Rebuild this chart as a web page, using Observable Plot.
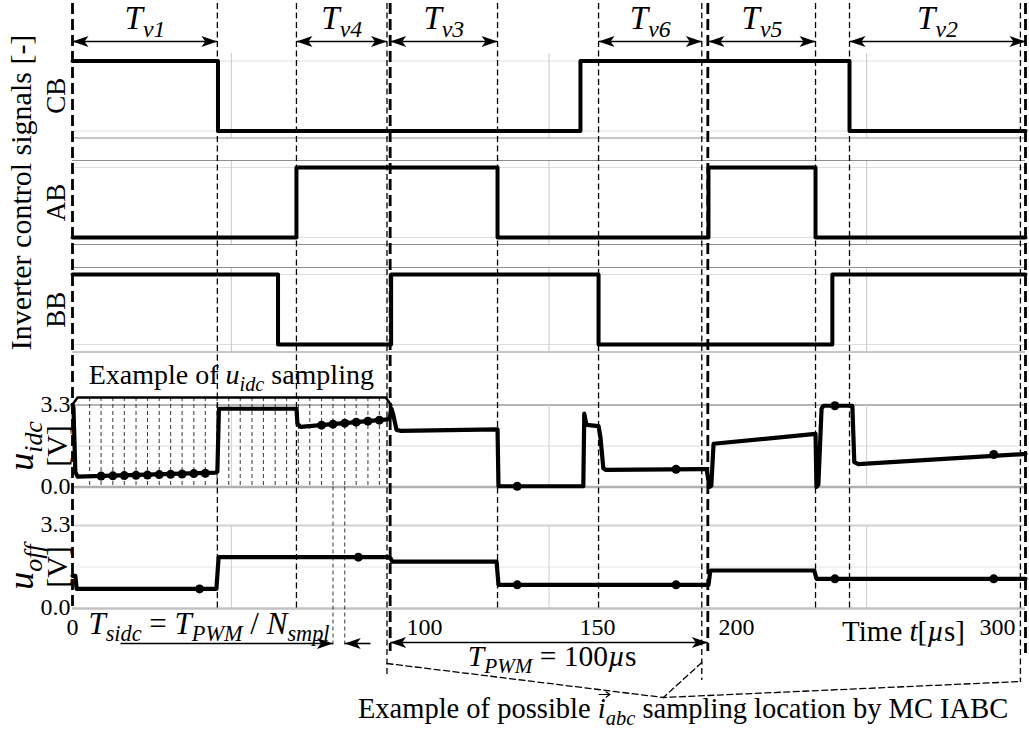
<!DOCTYPE html>
<html>
<head>
<meta charset="utf-8">
<script src="https://cdn.jsdelivr.net/npm/d3@7"></script>
<script src="https://cdn.jsdelivr.net/npm/@observablehq/plot@0.6"></script>
<style>
html, body { margin: 0; padding: 0; background: #fff; }
#chart svg { display: block; }
</style>
</head>
<body>
<div id="chart"></div>
<script>
// ================= DATA =================
// Inverter control signals (time in µs, logic level 0/1), step-after
const cbT = [0, 45.8, 159.9, 244.6, 300];
const cbV = [1, 0, 1, 0, 0];
const abT = [0, 70.5, 133.8, 200.2, 233.9, 300];
const abV = [0, 1, 0, 1, 0, 0];
const bbT = [0, 64.7, 100.3, 165.6, 239.2, 300];
const bbV = [1, 0, 1, 0, 1, 1];

// u_idc [V]
const uidcT = [0, 0.3, 0.9, 1.6, 45.0, 45.6, 46.1, 70.5, 70.8, 71.8, 99.2, 99.8, 100.4, 101.0, 102.0, 103.2,
  133.8, 134.1, 160.8, 161.1, 161.8, 165.6, 166.2, 167.1, 167.8, 198.3, 199.6, 200.5, 201.1, 201.8,
  233.9, 234.2, 234.8, 235.8, 236.4, 245.5, 246.1, 247.4, 300];
const uidcV = [3.3, 3.2, 0.6, 0.42, 0.58, 0.62, 3.15, 3.15, 2.55, 2.42, 2.72, 2.75, 3.15, 2.9, 2.3, 2.26,
  2.32, 0.03, 0.03, 2.95, 2.5, 2.45, 2.0, 0.75, 0.69, 0.72, 0.72, 0.0, 0.05, 1.74,
  2.14, 0.0, 0.1, 3.15, 3.27, 3.27, 1.0, 0.92, 1.33];

// u_off [V]
const uoffT = [0, 0.9, 1.3, 45.3, 46.0, 99.2, 100.1, 100.7, 133.5, 134.1, 200.2, 200.8, 233.5, 234.2, 300];
const uoffV = [1.3, 1.3, 0.78, 0.78, 2.04, 2.04, 2.0, 1.86, 1.86, 0.94, 0.94, 1.51, 1.51, 1.18, 1.18];

// sampled points
const uidcDotT = [9.0, 12.7, 16.3, 20.0, 23.6, 27.3, 30.9, 34.5, 38.2, 41.8, 78.4, 82.0, 85.7, 89.3, 93.0, 96.6, 140, 190, 240, 290];
const uidcDotV = [0.44, 0.45, 0.46, 0.47, 0.48, 0.50, 0.51, 0.52, 0.54, 0.55, 2.49, 2.53, 2.57, 2.61, 2.65, 2.69, 0.03, 0.71, 3.27, 1.31];
const uoffDotT = [40, 90, 140, 190, 240, 290];
const uoffDotV = [0.78, 2.04, 0.94, 0.94, 1.18, 1.18];

// time markers
const pwmT = [0, 100, 200, 300];
const boundaryT = [45.6, 70.5, 99.0, 133.8, 165.6, 198.1, 233.9, 244.6, 298.4];
const tvNames = ["v1", "v4", "v3", "v6", "v5", "v2"];
const tvStart = [0, 70.5, 100, 165.6, 200.2, 244.6];
const tvEnd = [45.6, 99.0, 133.8, 198.1, 233.9, 300];
const gridT = [50, 150, 250];
const sampleT = [5.4, 9.0, 12.7, 16.3, 20.0, 23.6, 27.3, 30.9, 34.5, 38.2, 41.8, 45.5, 49.2, 52.8, 56.5, 60.1,
  63.8, 67.4, 71.1, 74.7, 78.4, 82.0, 85.7, 89.3, 93.0, 96.6];
const tsidcT = [82.0, 85.7];
const tpwmT = [100, 200];

// tick labels
const xTickLabels = ["0", "100", "150", "200", "300"];
const xTickLabelT = [0, 110.8, 165.3, 209.0, 291.2];
const yTickLabels = ["0.0", "3.3"];
const yTickV = [0, 3.3];
const signalNames = ["CB", "AB", "BB"];

// ================= LAYOUT =================
const W = 1029, H = 729;
const serif = "'Liberation Serif', 'DejaVu Serif', serif";
const sigPanel = {
  CB: {lo: 130.5, hi: 60.5, top: 53, bot: 137.5},
  AB: {lo: 237, hi: 167, top: 160, bot: 244},
  BB: {lo: 344, hi: 274, top: 267, bot: 351.5}
};
const anaPanel = {uidc: {zero: 486.5, full: 404.5}, uoff: {zero: 608, full: 525}};
const VMAX = 3.3;
const sy = (p, v) => p.lo + (p.hi - p.lo) * v;
const ay = (p, v) => p.zero + (p.full - p.zero) * v / VMAX;
const zip = (T, V) => T.map((t, i) => ({t, v: V[i]}));
const pwmEnd = [610, 651, 651, 653];
const boundaryEnd = [610, 610, 677, 610, 610, 680, 610, 610, 682];

const headRight = {draw(ctx) { ctx.moveTo(0, 0); ctx.lineTo(-16, -5.5); ctx.lineTo(-12, 0); ctx.lineTo(-16, 5.5); ctx.closePath(); }};
const headLeft = {draw(ctx) { ctx.moveTo(0, 0); ctx.lineTo(16, -5.5); ctx.lineTo(12, 0); ctx.lineTo(16, 5.5); ctx.closePath(); }};

const marks = [];

// ---- panel grids ----
for (const n of signalNames) {
  const p = sigPanel[n];
  marks.push(Plot.ruleY([p.hi, p.lo], {stroke: "#dedede", strokeWidth: 1}));
  marks.push(Plot.ruleX(gridT, {x: d => d, y1: p.top, y2: p.bot, stroke: "#c8c8c8", strokeWidth: 1}));
}
marks.push(Plot.ruleY([sigPanel.CB.bot, sigPanel.AB.top, sigPanel.AB.bot, sigPanel.BB.top, sigPanel.BB.bot],
  {stroke: "#8e8e8e", strokeWidth: 1}));

const ana = [
  {p: anaPanel.uidc, full: "#9c9c9c", fullW: 1.3, mid: "#dcdcdc", zero: "#b0b0b0"},
  {p: anaPanel.uoff, full: "#d2d2d2", fullW: 2, mid: "#e6e6e6", zero: "#c2c2c2"}
];
for (const a of ana) {
  marks.push(Plot.ruleY([ay(a.p, VMAX / 2)], {stroke: a.mid, strokeWidth: 1}));
  marks.push(Plot.ruleY([ay(a.p, VMAX)], {stroke: a.full, strokeWidth: a.fullW}));
  marks.push(Plot.ruleY([ay(a.p, 0)], {stroke: a.zero, strokeWidth: 2.5}));
  marks.push(Plot.ruleX(gridT, {x: d => d, y1: a.p.full, y2: a.p.zero, stroke: "#cccccc", strokeWidth: 1}));
}

// ---- sampling lines of u_idc ----
marks.push(Plot.ruleX(sampleT, {x: d => d, y1: 397, y2: anaPanel.uidc.zero, stroke: "#222", strokeWidth: 0.9, strokeDasharray: "4,3"}));
marks.push(Plot.ruleX(tsidcT, {x: d => d, y1: anaPanel.uidc.zero, y2: 646, stroke: "#222", strokeWidth: 0.9, strokeDasharray: "4,3"}));

// ---- boundary (thin dashed) and PWM period (thick dashed) lines ----
marks.push(Plot.ruleX(boundaryT, {x: d => d, y1: 3, y2: (d, i) => boundaryEnd[i], stroke: "black", strokeWidth: 1.3, strokeDasharray: "6,3.5"}));
marks.push(Plot.ruleX(pwmT, {x: d => d, y1: 3, y2: (d, i) => pwmEnd[i], stroke: "black", strokeWidth: 2.8, strokeDasharray: "11,5"}));

// ---- signals ----
for (const [n, T, V] of [["CB", cbT, cbV], ["AB", abT, abV], ["BB", bbT, bbV]]) {
  marks.push(Plot.line(zip(T, V), {x: "t", y: d => sy(sigPanel[n], d.v), curve: "step-after", stroke: "black", strokeWidth: 4}));
}

// ---- analog traces ----
marks.push(Plot.line(zip(uidcT, uidcV), {x: "t", y: d => ay(anaPanel.uidc, d.v), stroke: "black", strokeWidth: 4.2, strokeLinejoin: "round"}));
marks.push(Plot.line(zip(uoffT, uoffV), {x: "t", y: d => ay(anaPanel.uoff, d.v), stroke: "black", strokeWidth: 4.2, strokeLinejoin: "round"}));
marks.push(Plot.dot(zip(uidcDotT, uidcDotV), {x: "t", y: d => ay(anaPanel.uidc, d.v), r: 4.5, fill: "black"}));
marks.push(Plot.dot(zip(uoffDotT, uoffDotV), {x: "t", y: d => ay(anaPanel.uoff, d.v), r: 4.5, fill: "black"}));

// ---- sampling bracket ----
marks.push(Plot.line([{t: 0, y: 404}, {t: 1.6, y: 397}, {t: 98.6, y: 397}, {t: 100.4, y: 405}],
  {x: "t", y: "y", stroke: "black", strokeWidth: 2.5}));

// ---- Tv arrows ----
const tv = tvNames.map((name, i) => ({name, s: tvStart[i], e: tvEnd[i]}));
const arrowY = 41;
marks.push(Plot.link(tv, {x1: "s", x2: "e", y1: arrowY, y2: arrowY, stroke: "black", strokeWidth: 1.6}));
marks.push(Plot.dot(tv, {x: "s", y: arrowY, symbol: headLeft, fill: "black"}));
marks.push(Plot.dot(tv, {x: "e", y: arrowY, symbol: headRight, fill: "black"}));
marks.push(Plot.text(tv, {x: d => (d.s + d.e) / 2, y: 28, text: d => `*T*_{*${d.name}*}`, fontSize: 33, lineAnchor: "bottom", fontFamily: serif}));

// ---- T_sidc arrows ----
const sidcY = 643;
marks.push(Plot.link([{a: 15.1, b: tsidcT[0]}, {a: tsidcT[1], b: 93.8}], {x1: "a", x2: "b", y1: sidcY, y2: sidcY, stroke: "black", strokeWidth: 1.6}));
marks.push(Plot.dot([tsidcT[0]], {x: d => d, y: sidcY, symbol: headRight, fill: "black"}));
marks.push(Plot.dot([tsidcT[1]], {x: d => d, y: sidcY, symbol: headLeft, fill: "black"}));

// ---- T_PWM arrow ----
const pwmY = 642;
marks.push(Plot.link([{a: tpwmT[0], b: tpwmT[1]}], {x1: "a", x2: "b", y1: pwmY, y2: pwmY, stroke: "black", strokeWidth: 1.6}));
marks.push(Plot.dot([tpwmT[0]], {x: d => d, y: pwmY, symbol: headLeft, fill: "black"}));
marks.push(Plot.dot([tpwmT[1]], {x: d => d, y: pwmY, symbol: headRight, fill: "black"}));

// ---- bottom dashed bracket ----
marks.push(Plot.line([{t: 99.0, y: 663}, {t: 186.0, y: 697}, {t: 298.4, y: 681}], {x: "t", y: "y", stroke: "black", strokeWidth: 1.3, strokeDasharray: "6,3.5"}));
marks.push(Plot.line([{t: 198.1, y: 662}, {t: 186.0, y: 697}], {x: "t", y: "y", stroke: "black", strokeWidth: 1.3, strokeDasharray: "6,3.5"}));

// ---- texts ----
marks.push(Plot.text(["Inverter control signals [-]"], {frameAnchor: "left", dx: -51, y: 192, rotate: -90, textAnchor: "middle", fontSize: 30, fontFamily: serif}));
marks.push(Plot.text(signalNames, {frameAnchor: "left", dx: -16, y: d => (sigPanel[d].top + sigPanel[d].bot) / 2, rotate: -90, textAnchor: "middle", fontSize: 27, fontFamily: serif}));
const anaLabels = [
  {label: "*u*_{*idc*}", p: anaPanel.uidc},
  {label: "*u*_{*off*}", p: anaPanel.uoff}
];
marks.push(Plot.text(anaLabels, {frameAnchor: "left", dx: -51, y: d => (d.p.full + d.p.zero) / 2, text: "label", rotate: -90, textAnchor: "middle", fontSize: 36, fontFamily: serif}));
marks.push(Plot.text(anaLabels, {frameAnchor: "left", dx: -15, y: d => (d.p.full + d.p.zero) / 2, text: () => "[V]", rotate: -90, textAnchor: "middle", fontSize: 30, fontFamily: serif}));
for (const a of [anaPanel.uidc, anaPanel.uoff]) {
  marks.push(Plot.text(yTickLabels, {frameAnchor: "left", dx: -2, dy: -1, y: (d, i) => ay(a, yTickV[i]), textAnchor: "end", fontSize: 24, fontFamily: serif}));
}
marks.push(Plot.text(xTickLabels, {x: (d, i) => xTickLabelT[i], y: 634, lineAnchor: "bottom", fontSize: 24, fontFamily: serif}));
marks.push(Plot.text(["Time *t*[*µ*s]"], {x: 261.6, y: 640, lineAnchor: "bottom", fontSize: 29, fontFamily: serif}));
marks.push(Plot.text(["*T*_{*sidc*} = *T*_{*PWM*} / *N*_{*smpl*}"], {x: 5.0, y: 633, textAnchor: "start", lineAnchor: "bottom", fontSize: 31, fontFamily: serif}));
marks.push(Plot.text(["*T*_{*PWM*} = 100*µ*s"], {x: 151, y: 665, lineAnchor: "bottom", fontSize: 29.5, fontFamily: serif}));
marks.push(Plot.text(["Example of *u*_{*idc*} sampling"], {x: 50, y: 383, lineAnchor: "bottom", fontSize: 28, fontFamily: serif}));
marks.push(Plot.text(["Example of possible *i*_{*abc*} sampling location by MC IABC"], {x: 192.2, y: 717, lineAnchor: "bottom", fontSize: 28.5, fontFamily: serif}));

const svg = Plot.plot({
  width: W,
  height: H,
  marginLeft: 72, marginRight: 4, marginTop: 0, marginBottom: 0,
  x: {domain: [0, 300], range: [72, 1025], axis: null},
  y: {domain: [0, H], range: [0, H], axis: null},
  style: {background: "white", fontFamily: serif, color: "black"},
  marks
});
document.getElementById("chart").appendChild(svg);

// ---- rich text: *italic* and _{subscript} as tspans ----
const NS = "http://www.w3.org/2000/svg";
svg.querySelectorAll("text").forEach(el => {
  const s = el.textContent;
  if (!/\*|_\{/.test(s)) return;
  const fs = parseFloat(getComputedStyle(el).fontSize);
  el.textContent = "";
  let shift = 0;
  const re = /_\{([^}]*)\}|([^_]+|_)/g;
  let m;
  while ((m = re.exec(s))) {
    const sub = m[1] !== undefined;
    const str = sub ? m[1] : m[2];
    str.split("*").forEach((part, k) => {
      if (!part) return;
      const ts = document.createElementNS(NS, "tspan");
      ts.textContent = part;
      if (k % 2 === 1) ts.setAttribute("font-style", "italic");
      const target = sub ? 0.25 * fs : 0;
      if (target !== shift) { ts.setAttribute("dy", (target - shift).toFixed(2)); shift = target; }
      if (sub) ts.setAttribute("font-size", (0.72 * fs).toFixed(1));
      el.appendChild(ts);
    });
  }
  // vector arrow over i in the caption
  if (s.includes("IABC")) {
    const ts = Array.from(el.querySelectorAll("tspan")).find(t => t.textContent === "i");
    if (ts) {
      const bb = ts.getBBox();
      const g = document.createElementNS(NS, "g");
      if (el.getAttribute("transform")) g.setAttribute("transform", el.getAttribute("transform"));
      const y0 = bb.y + 2, x0 = bb.x + 1, x1 = bb.x + bb.width + 4;
      const p = document.createElementNS(NS, "path");
      p.setAttribute("d", `M${x0},${y0}H${x1}M${x1 - 4},${y0 - 3}L${x1},${y0}L${x1 - 4},${y0 + 3}`);
      p.setAttribute("stroke", "black");
      p.setAttribute("stroke-width", "1.2");
      p.setAttribute("fill", "none");
      g.appendChild(p);
      el.parentNode.appendChild(g);
    }
  }
});
</script>
</body>
</html>
